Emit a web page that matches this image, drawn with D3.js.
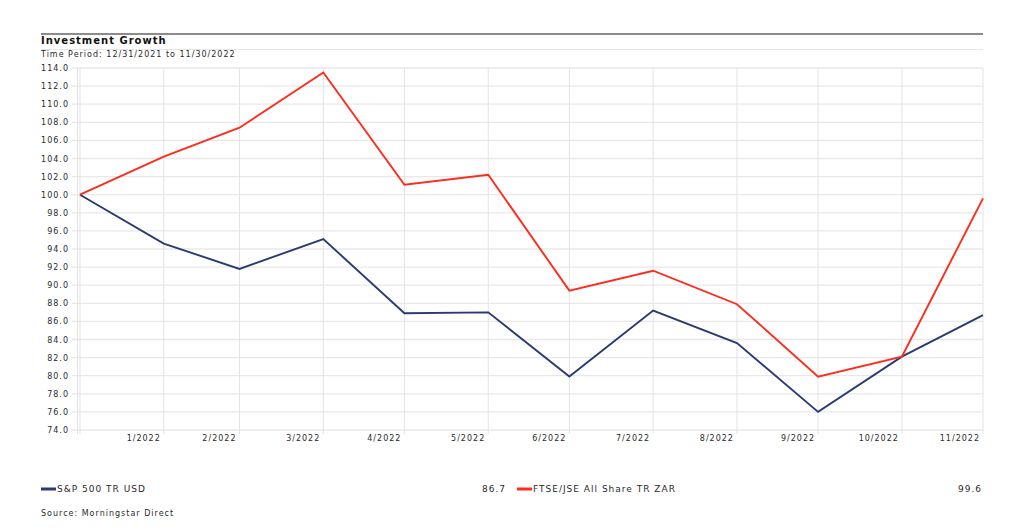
<!DOCTYPE html>
<html>
<head>
<meta charset="utf-8">
<script src="https://cdn.jsdelivr.net/npm/d3@7"></script>
<style>
  body { margin: 0; background: #fff; }
  svg text { font-family: "DejaVu Sans", Verdana, sans-serif; fill: #2a2a2a; letter-spacing: 1px; }
</style>
</head>
<body>
<svg id="chart" width="1024" height="531"></svg>
<script>
// month-end dates and the two growth-of-100 series
const dates = ["2021-12-31", "2022-01-31", "2022-02-28", "2022-03-31", "2022-04-30", "2022-05-31",
    "2022-06-30", "2022-07-31", "2022-08-31", "2022-09-30", "2022-10-31", "2022-11-30"];
const tickLabels = ["", "1/2022", "2/2022", "3/2022", "4/2022", "5/2022", "6/2022",
    "7/2022", "8/2022", "9/2022", "10/2022", "11/2022"];
const spValues = [100.0, 94.6, 91.8, 95.1, 86.9, 87.0, 79.9, 87.2, 83.6, 76.0, 82.1, 86.7];
const jseValues = [100.0, 104.2, 107.4, 113.5, 101.1, 102.2, 89.4, 91.6, 87.9, 79.9, 82.1, 99.6];
const yTicks = d3.range(74, 114.1, 2);
const seriesNames = ["S&P 500 TR USD", "FTSE/JSE All Share TR ZAR"];
const seriesColours = ["#2b3a73", "#ff2b1c"];

const svg = d3.select("#chart");
const parse = d3.timeParse("%Y-%m-%d");
const dateObjs = dates.map(parse);

const x = d3.scaleTime()
    .domain(d3.extent(dateObjs))
    .range([80, 983]);
const y = d3.scaleLinear()
    .domain([74, 114])
    .range([430, 68]);

// header
svg.append("line").attr("x1", 41).attr("x2", 983).attr("y1", 34).attr("y2", 34)
    .attr("stroke", "#666").attr("stroke-width", 1.5);
svg.append("text").attr("x", 41).attr("y", 44)
    .style("font-size", "10px").style("font-weight", "bold").style("fill", "#111")
    .text("Investment Growth");
svg.append("line").attr("x1", 41).attr("x2", 983).attr("y1", 49.5).attr("y2", 49.5)
    .attr("stroke", "#e6e6e6").attr("stroke-width", 1);
svg.append("text").attr("x", 41).attr("y", 57)
    .style("font-size", "8px")
    .text("Time Period: 12/31/2021 to 11/30/2022");

// horizontal grid + y labels
svg.append("g").selectAll("line").data(yTicks).enter().append("line")
    .attr("x1", 72).attr("x2", 983)
    .attr("y1", d => y(d)).attr("y2", d => y(d))
    .attr("stroke", "#e8e8e8").attr("stroke-width", 1.3);
svg.append("g").selectAll("text").data(yTicks).enter().append("text")
    .attr("x", 69).attr("y", d => y(d) + 3)
    .attr("text-anchor", "end")
    .style("font-size", "8px")
    .text(d => d.toFixed(1));

// vertical grid + month labels
svg.append("g").selectAll("line").data(dateObjs).enter().append("line")
    .attr("x1", d => x(d)).attr("x2", d => x(d))
    .attr("y1", 68).attr("y2", 434)
    .attr("stroke", "#e3e3e3").attr("stroke-width", 1);
svg.append("line").attr("x1", 77.5).attr("x2", 77.5).attr("y1", 68).attr("y2", 434)
    .attr("stroke", "#e3e3e3").attr("stroke-width", 1);
svg.append("g").selectAll("text").data(dateObjs).enter().append("text")
    .attr("x", d => x(d) - 3).attr("y", 441)
    .attr("text-anchor", "end")
    .style("font-size", "8px")
    .text((d, i) => tickLabels[i]);

// series lines
const line = d3.line()
    .x((d, i) => x(dateObjs[i]))
    .y(d => y(d));
[spValues, jseValues].forEach(function (vals, k) {
    svg.append("path")
        .datum(vals)
        .attr("d", line)
        .attr("fill", "none")
        .attr("stroke", seriesColours[k])
        .attr("stroke-width", 1.9)
        .attr("stroke-linejoin", "miter");
});

// legend
const legendX = [41, 517];
const valueX = [506, 982];
const lastVals = [spValues[spValues.length - 1], jseValues[jseValues.length - 1]];
seriesNames.forEach(function (name, k) {
    svg.append("line")
        .attr("x1", legendX[k]).attr("x2", legendX[k] + 15)
        .attr("y1", 489).attr("y2", 489)
        .attr("stroke", seriesColours[k]).attr("stroke-width", 3);
    svg.append("text")
        .attr("x", legendX[k] + 16).attr("y", 492)
        .style("font-size", "9px")
        .text(name);
    svg.append("text")
        .attr("x", valueX[k]).attr("y", 492)
        .attr("text-anchor", "end")
        .style("font-size", "9px")
        .text(lastVals[k].toFixed(1));
});

svg.append("text").attr("x", 41).attr("y", 516)
    .style("font-size", "8px")
    .text("Source: Morningstar Direct");
</script>
</body>
</html>
